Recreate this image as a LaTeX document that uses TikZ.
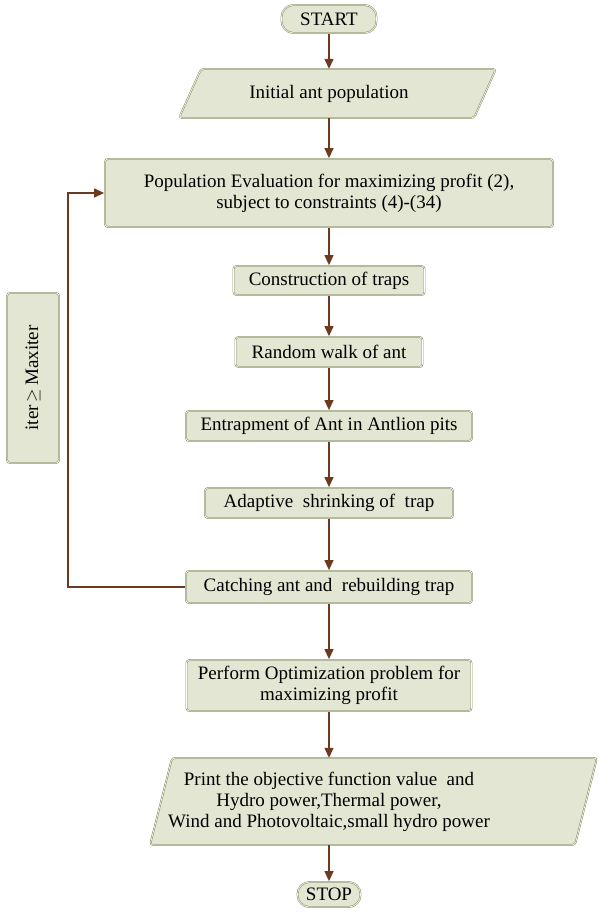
\documentclass[tikz,border=0pt]{standalone}
\usepackage{fontspec}
\setmainfont{Liberation Serif}
\usetikzlibrary{arrows.meta,calc}
\definecolor{boxfill}{RGB}{228,230,212}
\definecolor{boxedge}{RGB}{138,150,104}
\definecolor{arrowc}{RGB}{108,58,30}
\tikzset{
  txt/.style={font=\fontsize{19}{21}\selectfont, align=center, inner sep=0pt},
  fbox/.style={txt, draw=boxedge, line width=1.8pt, fill=boxfill, rounded corners=3pt,
     postaction={draw=white, line width=0.6pt}},
  pill/.style={fbox, rounded corners=12pt},
  pshape/.style={draw=boxedge, line width=1.8pt, fill=boxfill, rounded corners=3pt,
     postaction={draw=white, line width=0.6pt}},
  arr/.style={draw=arrowc, line width=1.3pt, -{Triangle[width=9pt,length=10pt]}},
}
\begin{document}
\begin{tikzpicture}[x=1pt,y=-1pt]
\useasboundingbox (0,0) rectangle (599,913);
% parallelogram outlines
\draw[pshape] (201,69) -- (496,69) -- (474,118) -- (179,118) -- cycle;
\draw[pshape] (172,758) -- (597,758) -- (575,845) -- (150,845) -- cycle;

\node[pill, minimum width=95pt, minimum height=28pt] (start) at (329,19) {START};
\node[txt, minimum width=200pt, minimum height=49pt] (init) at (329,93.5) {Initial ant population};
\node[fbox, minimum width=448pt, minimum height=68pt] (pop) at (329,193)
  {Population Evaluation for maximizing profit (2),\\ subject to constraints (4)-(34)};
\node[fbox, minimum width=191pt, minimum height=29pt] (cons) at (329,280.5) {Construction of traps};
\node[fbox, minimum width=187pt, minimum height=30pt] (rand) at (329,352) {Random walk of ant};
\node[fbox, minimum width=286pt, minimum height=30pt] (entr) at (329,426) {Entrapment of Ant in Antlion pits};
\node[fbox, minimum width=248pt, minimum height=30pt] (adap) at (329,503) {Adaptive\ \ shrinking of\ \ trap};
\node[fbox, minimum width=286pt, minimum height=32pt] (catch) at (329,587) {Catching ant and\ \ rebuilding trap};
\node[fbox, minimum width=285pt, minimum height=51pt] (perf) at (329,685.5)
  {Perform Optimization problem for\\ maximizing profit};
\node[txt, minimum width=300pt, minimum height=87pt] (print) at (329,801.5)
  {Print the objective function value\ \ and\\ Hydro power,Thermal power,\\ Wind and Photovoltaic,small hydro power};
\node[pill, minimum width=63pt, minimum height=25pt] (stop) at (329,894.5) {STOP};
\node[fbox, minimum width=52pt, minimum height=170pt] (iter) at (33,378) {};
\node[txt, rotate=90] (itertxt) at (iter.center) {iter$\,\geq\,$Maxiter};

\coordinate (fb) at (68,587);
\draw[arr] (start) -- (init);
\draw[arr] (init) -- (pop);
\draw[arr] (pop) -- (cons);
\draw[arr] (cons) -- (rand);
\draw[arr] (rand) -- (entr);
\draw[arr] (entr) -- (adap);
\draw[arr] (adap) -- (catch);
\draw[arr] (catch) -- (perf);
\draw[arr] (perf) -- (print);
\draw[arr] (print) -- (stop);
\draw[arr] (catch.west) -- (fb) |- (pop.west);
\end{tikzpicture}
\end{document}
